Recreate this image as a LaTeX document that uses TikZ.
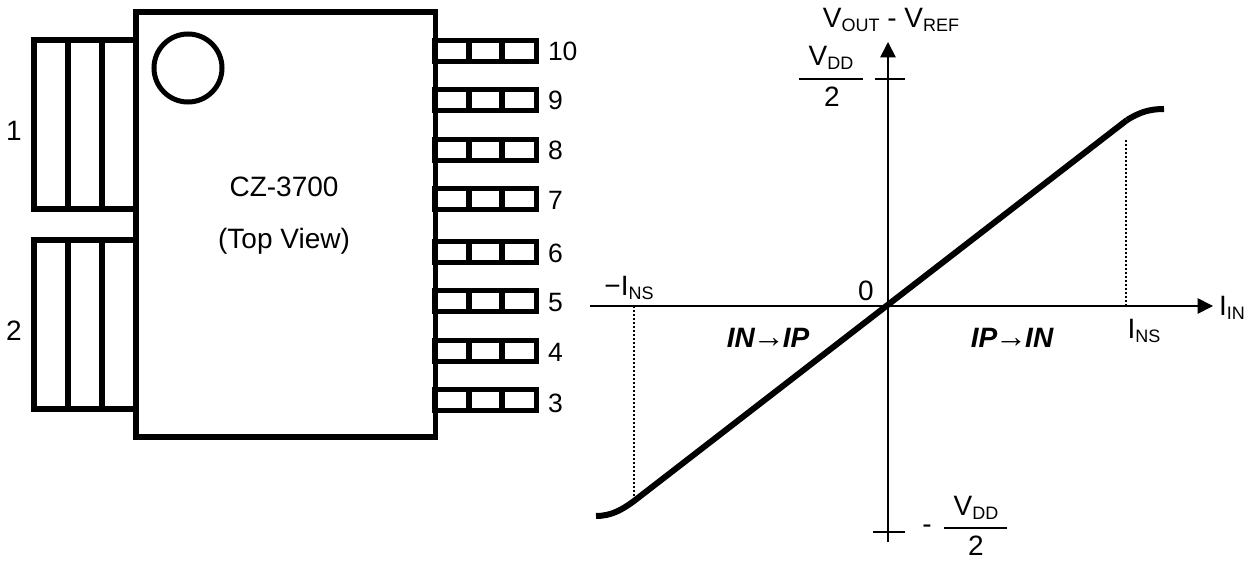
\documentclass[tikz,border=0pt]{standalone}
\usepackage{fontspec}
\setmainfont{Liberation Sans}
\usetikzlibrary{arrows.meta}
\tikzset{
 x=1pt,y=-1pt,
 bar/.style={draw=black,line width=5.2pt},
 txt/.style={font=\fontsize{28}{32}\selectfont,inner sep=0pt,outer sep=0pt,anchor=base,text=black},
 pinnum/.style={font=\fontsize{26.5}{32}\selectfont,inner sep=0pt,outer sep=0pt,anchor=base west,text=black},
 dirtxt/.style={font=\fontsize{28}{32}\selectfont\bfseries\itshape,inner sep=0pt,outer sep=0pt,anchor=base,text=black},
 axis/.style={draw=black,line width=1.6pt},
 curve/.style={draw=black,line width=6pt,line cap=butt},
 guide/.style={draw=black,line width=2.4pt,dash pattern=on 2pt off 2pt},
}
\newcommand{\subt}[1]{\raisebox{-4pt}{\fontsize{18}{20}\selectfont #1}}
\newcommand{\arr}{\kern-2pt\textnormal{\fontsize{32}{28}\selectfont →}\kern-2pt}
\begin{document}
\begin{tikzpicture}
\useasboundingbox (0,0) rectangle (1249,561);
% left tabs
\foreach \t/\b in {40/209,240/409}{
 \draw[bar] (135,\t) -- (34,\t) -- (34,\b) -- (135,\b);
 \draw[bar] (68,\t) -- (68,\b);
 \draw[bar] (102,\t) -- (102,\b);
}
% right pins
\foreach \c in {51,100,150,199,252,301,351,400}{
 \draw[bar] (435,\c-10.5) rectangle (536.5,\c+10.5);
 \draw[bar] (469,\c-10.5) -- (469,\c+10.5);
 \draw[bar] (502,\c-10.5) -- (502,\c+10.5);
}
% body
\node[draw=black,line width=5.4pt,minimum width=299.5pt,minimum height=425pt,inner sep=0pt,outer sep=0pt,anchor=north west] (body) at (136,12) {};
\node[draw=black,line width=5pt,circle,minimum size=68pt,inner sep=0pt,outer sep=0pt] (dot) at (188,68) {};
\node[txt] (name) at (284,197) {CZ-3700};
\node[txt] (view) at (284,248) {(Top View)};
\node[txt] (l1) at (14,141) {1};
\node[txt] (l2) at (14,340) {2};
\foreach \n/\y in {10/61,9/110,8/160,7/210,6/262,5/311,4/361,3/412}{
 \node[pinnum] (p\n) at (548,\y) {\n};
}
% axes
\coordinate (xs) at (590,306);
\coordinate (xe) at (1213,306);
\coordinate (ys) at (888,542);
\coordinate (ye) at (888,42);
\draw[axis,-{Triangle[length=15.5pt,width=15.5pt]}] (xs) -- (xe);
\draw[axis,-{Triangle[length=15.5pt,width=15.5pt]}] (ys) -- (ye);
\coordinate (t1a) at (875,79); \coordinate (t1b) at (905,79);
\coordinate (t2a) at (873,532); \coordinate (t2b) at (905,532);
\draw[axis] (t1a) -- (t1b);
\draw[axis] (t2a) -- (t2b);
% guides
\coordinate (g1a) at (1126,140); \coordinate (g1b) at (1126,305);
\coordinate (g2a) at (634,306); \coordinate (g2b) at (634,497);
\draw[guide] (g1a) -- (g1b);
\draw[guide] (g2a) -- (g2b);
% curve
\coordinate (c0) at (596,516);
\coordinate (c1) at (634,501);
\coordinate (c2) at (1127,120);
\coordinate (c3) at (1164,109);
\draw[curve] (c0) .. controls (612,516) and (623,509) .. (c1) -- (c2);
\draw[curve] (c2) .. controls (1140,112) and (1150,109) .. (c3);
% labels
\node[txt] (vout) at (891,28) {V\subt{OUT} - V\subt{REF}};
\node[txt,anchor=base west] (iin) at (1219,315) {I\subt{IN}};
\node[txt] (ins) at (1144,338) {I\subt{NS}};
\node[txt] (mins) at (629,295) {\textminus I\subt{NS}};
\node[txt] (zero) at (866,300) {0};
\node[dirtxt] (a1) at (768,347) {IN\arr IP};
\node[dirtxt] (a2) at (1012,347) {IP\arr IN};
\node[txt] (vd1) at (831,66) {V\subt{DD}};
\node[txt] (two1) at (832,107) {2};
\coordinate (f1a) at (799,79); \coordinate (f1b) at (863,79);
\draw[axis] (f1a) -- (f1b);
\node[txt] (vd2) at (976,515) {V\subt{DD}};
\node[txt] (two2) at (976,555) {2};
\coordinate (f2a) at (944,528); \coordinate (f2b) at (1007,528);
\draw[axis] (f2a) -- (f2b);
\node[txt] (minus) at (927,533) {-};
\end{tikzpicture}
\end{document}
